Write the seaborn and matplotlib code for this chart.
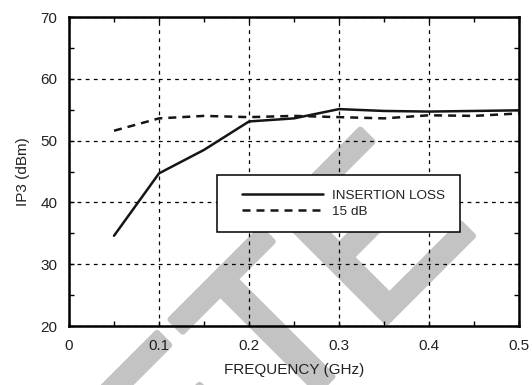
import numpy as np
import pandas as pd
import seaborn as sns
import matplotlib
matplotlib.use("Agg")
import matplotlib.pyplot as plt
import matplotlib.patheffects as pe
from matplotlib.legend_handler import HandlerLine2D

# data
freq = [0.05, 0.10, 0.15, 0.20, 0.25, 0.30, 0.35, 0.40, 0.45, 0.50]
ip3_insertion_loss = [34.6, 44.7, 48.5, 53.1, 53.6, 55.1, 54.8, 54.7, 54.8, 54.9]
ip3_15db = [51.6, 53.6, 54.0, 53.8, 54.0, 53.8, 53.6, 54.1, 54.0, 54.4]
series_names = ["INSERTION LOSS", "15 dB"]
x_ticks = [0, 0.1, 0.2, 0.3, 0.4, 0.5]
x_ticklabels = ["0", "0.1", "0.2", "0.3", "0.4", "0.5"]
y_ticks = [20, 30, 40, 50, 60, 70]

df = pd.DataFrame({
    "freq": freq * 2,
    "ip3": ip3_insertion_loss + ip3_15db,
    "series": [series_names[0]] * len(freq) + [series_names[1]] * len(freq),
})

sns.set_style("ticks")
plt.rcParams["font.family"] = ["Liberation Sans", "DejaVu Sans"]

fig = plt.figure(figsize=(5.32, 3.85), dpi=100)
ax = fig.add_axes([0.1297, 0.1532, 0.8459, 0.8026])
ax.set_facecolor("none")

# watermark behind the plot
fig.text(0.902, 0.405, "OBSOLETE", rotation=45, rotation_mode="anchor",
         ha="right", va="baseline", fontsize=162, color="#c3c3c3", zorder=-1,
         path_effects=[pe.withStroke(linewidth=4.5, foreground="#c3c3c3")])

sns.lineplot(data=df, x="freq", y="ip3", style="series",
             dashes={series_names[0]: "", series_names[1]: (3.2, 2.4)},
             color="#151515", linewidth=1.8, legend=False, ax=ax, zorder=3)

ax.set_xlim(0, 0.5)
ax.set_ylim(20, 70)
ax.set_xticks(x_ticks)
ax.set_xticklabels(x_ticklabels)
ax.set_yticks(y_ticks)
ax.set_xticks(np.arange(0.05, 0.5, 0.1), minor=True)
ax.set_yticks(np.arange(25, 70, 10), minor=True)

ax.grid(True, which="major", color="black", linestyle=(0, (3, 3.5)), linewidth=0.9)
ax.set_axisbelow(True)

for s in ax.spines.values():
    s.set_visible(True)
    s.set_linewidth(1.8)
    s.set_color("black")

ax.tick_params(which="both", direction="in", top=True, right=True, length=3.6, width=1.0, color="black")
ax.tick_params(axis="x", which="both", pad=9.5, labelsize=11, labelcolor="#222222")
ax.tick_params(axis="y", which="both", pad=8.5, labelsize=11, labelcolor="#222222")

ax.set_xlabel("FREQUENCY (GHz)", fontsize=11, color="#222222", labelpad=7)
ax.set_ylabel("IP3 (dBm)", fontsize=11, color="#222222", labelpad=7.5)

handles = ax.lines[:2]
leg = ax.legend(handles, series_names, loc="upper left", bbox_to_anchor=(0.329, 0.489),
                borderaxespad=0, fontsize=9.7, frameon=True, fancybox=False,
                framealpha=1, edgecolor="black", borderpad=1.08, labelspacing=0.25,
                handlelength=6.8, handletextpad=0.67,
                handler_map={h: HandlerLine2D(xpad=0.75) for h in handles})
leg.get_frame().set_linewidth(1.1)
for t in leg.get_texts():
    t.set_color("#222222")

fig.savefig("out.png", dpi=100)
